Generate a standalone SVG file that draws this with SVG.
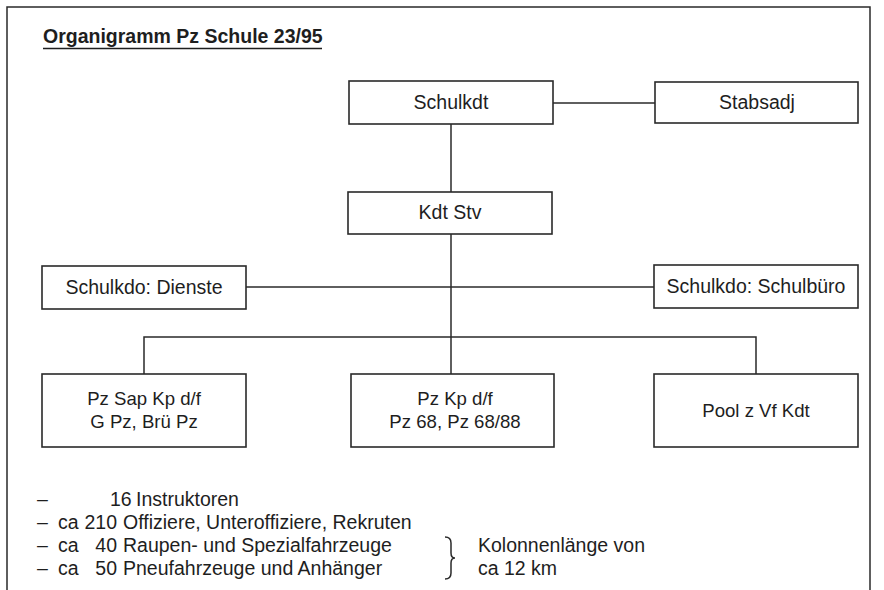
<svg xmlns="http://www.w3.org/2000/svg" width="884" height="590" viewBox="0 0 884 590">
<style>
  .box { fill: #ffffff; stroke: #2a2a2a; stroke-width: 1.6; }
  .ln { fill: none; stroke: #2a2a2a; stroke-width: 1.5; }
  .t { font-family: "Liberation Sans", Arial, sans-serif; font-size: 19.5px; fill: #1e1e1e; text-anchor: middle; }
  .tb { font-family: "Liberation Sans", Arial, sans-serif; font-size: 18.6px; fill: #1e1e1e; text-anchor: middle; }
  .l { font-family: "Liberation Sans", Arial, sans-serif; font-size: 19.5px; fill: #1e1e1e; }
  .title { font-family: "Liberation Sans", Arial, sans-serif; font-size: 19.5px; font-weight: bold; fill: #1e1e1e; }
</style>
<rect x="0" y="0" width="884" height="590" fill="#ffffff"/>
<path class="ln" d="M7,592 V7 H870 V592"/>
<g id="title">
  <text class="title" x="43" y="43">Organigramm Pz Schule 23/95</text>
  <line x1="43" y1="48.5" x2="322" y2="48.5" stroke="#1e1e1e" stroke-width="1.6"/>
</g>
<g id="connectors">
  <line class="ln" x1="553" y1="103" x2="655" y2="103"/>
  <line class="ln" x1="451" y1="124" x2="451" y2="192"/>
  <line class="ln" x1="451" y1="234" x2="451" y2="374"/>
  <line class="ln" x1="246" y1="287" x2="654" y2="287"/>
  <path class="ln" d="M144,374 V337 H756 V374"/>
</g>
<g id="schulkdt">
  <rect class="box" x="349" y="81" width="204" height="43"/>
  <text class="t" x="451" y="109">Schulkdt</text>
</g>
<g id="stabsadj">
  <rect class="box" x="655" y="82" width="203" height="41"/>
  <text class="t" x="757" y="109">Stabsadj</text>
</g>
<g id="kdtstv">
  <rect class="box" x="348" y="192" width="204" height="42"/>
  <text class="t" x="450" y="219">Kdt Stv</text>
</g>
<g id="dienste">
  <rect class="box" x="42" y="266" width="204" height="43"/>
  <text class="t" x="144" y="294">Schulkdo: Dienste</text>
</g>
<g id="schulbuero">
  <rect class="box" x="654" y="265" width="204" height="43"/>
  <text class="t" x="756" y="293">Schulkdo: Schulbüro</text>
</g>
<g id="pzsap">
  <rect class="box" x="42" y="374" width="204" height="73"/>
  <text class="tb" x="144" y="405">Pz Sap Kp d/f</text>
  <text class="tb" x="144" y="428">G Pz, Brü Pz</text>
</g>
<g id="pzkp">
  <rect class="box" x="351" y="374" width="203" height="73"/>
  <text class="tb" x="455" y="405">Pz Kp d/f</text>
  <text class="tb" x="455" y="428">Pz 68, Pz 68/88</text>
</g>
<g id="pool">
  <rect class="box" x="654" y="374" width="204" height="73"/>
  <text class="tb" x="756" y="417">Pool z Vf Kdt</text>
</g>
<g id="notes">
  <text class="l" x="37" y="506">–</text>
  <text class="l" x="110" y="506">16</text>
  <text class="l" x="136" y="506">Instruktoren</text>
  <text class="l" x="37" y="529">–</text>
  <text class="l" x="58" y="529">ca</text>
  <text class="l" x="117" y="529" text-anchor="end">210</text>
  <text class="l" x="123" y="529">Offiziere, Unteroffiziere, Rekruten</text>
  <text class="l" x="37" y="552">–</text>
  <text class="l" x="58" y="552">ca</text>
  <text class="l" x="117" y="552" text-anchor="end">40</text>
  <text class="l" x="123" y="552">Raupen- und Spezialfahrzeuge</text>
  <text class="l" x="37" y="575">–</text>
  <text class="l" x="58" y="575">ca</text>
  <text class="l" x="117" y="575" text-anchor="end">50</text>
  <text class="l" x="123" y="575">Pneufahrzeuge und Anhänger</text>
  <path class="ln" stroke-width="1.1" d="M445,537 Q451,537 451,543 V553 Q451,558 455,558 Q451,558 451,563 V573 Q451,579 445,579"/>
  <text class="l" x="478" y="552">Kolonnenlänge von</text>
  <text class="l" x="478" y="575">ca 12 km</text>
</g>
</svg>
